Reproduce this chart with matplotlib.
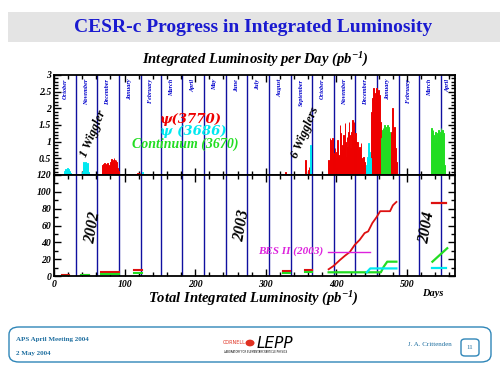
import matplotlib.pyplot as plt
from matplotlib.patches import Rectangle, FancyBboxPatch, Circle
from matplotlib.ticker import MultipleLocator

plt.rcParams['font.family'] = ['Liberation Serif', 'DejaVu Serif']
plt.rcParams['mathtext.fontset'] = 'custom'
plt.rcParams['mathtext.rm'] = 'Liberation Serif:bold:italic'
plt.rcParams['mathtext.bf'] = 'Liberation Serif:bold:italic'
plt.rcParams['mathtext.it'] = 'Liberation Serif:bold:italic'

# days counted from 1 October 2002
month_starts = [31, 61, 92, 123, 151, 182, 212, 243, 273, 304, 335, 365,
                396, 426, 457, 488, 517, 548]
month_names = ['October', 'November', 'December', 'January', 'February',
               'March', 'April', 'May', 'June', 'July', 'August',
               'September', 'October', 'November', 'December', 'January',
               'February', 'March', 'April']

# daily luminosity (pb^-1): first day of each run, then one value per day
psi3770_start = [68, 117, 328, 356, 389, 450, 477]
psi3770_lum = [
    [0.10, 0.30, 0.34, 0.28, 0.37, 0.30, 0.33, 0.22, 0.35, 0.30, 0.18, 0.26,
     0.40, 0.48, 0.42, 0.36, 0.46, 0.50, 0.44, 0.30, 0.45, 0.38, 0.20, 0.12,
     0.05],
    [0.04, 0.06, 0.05, 0.07, 0.04, 0.05, 0.03],
    [0.08],
    [0.45, 0.0, 0.0, 0.0, 0.15, 0.25],
    [0.45, 0.20, 1.10, 1.05, 0.80, 1.10, 0.60, 0.45, 0.65, 0.80, 0.50, 0.70,
     0.95, 1.05, 0.60, 0.55, 1.50, 1.25, 0.75, 0.60, 0.90, 1.20, 0.80, 1.55,
     1.00, 0.55, 1.15, 0.85, 1.30, 1.60, 1.20, 0.80, 1.30, 1.45, 1.65, 1.10,
     1.60, 0.90, 1.25, 1.00, 0.70, 1.00, 0.75, 0.50, 0.85, 0.60, 0.95, 0.50,
     0.30, 0.55, 0.35, 0.40, 0.20, 0.10],
    [1.90, 2.30, 2.10, 2.60, 2.45, 2.20, 2.55, 2.60, 2.35, 2.50, 2.55, 2.40,
     1.60, 0.30],
    [0.50, 1.30, 2.00, 1.40, 1.25, 1.45, 1.30, 0.80, 0.40],
]
psi3686_start = [14, 40, 125, 363, 443]
psi3686_lum = [
    [0.08, 0.12, 0.18, 0.10, 0.15, 0.20, 0.14, 0.18, 0.12, 0.05],
    [0.10, 0.25, 0.38, 0.20, 0.30, 0.40, 0.15, 0.35, 0.28, 0.10],
    [0.08],
    [0.90, 0.35],
    [0.30, 0.55, 0.95, 0.85, 0.70, 0.50, 0.35],
]
cont_start = [464, 535]
cont_lum = [
    [1.10, 1.35, 1.40, 1.30, 1.50, 1.25, 1.45, 1.35, 1.50, 1.20, 1.45, 1.30,
     0.60],
    [1.40, 1.25, 1.35, 1.20, 0.95, 1.30, 1.10, 0.95, 1.25, 1.30, 1.35, 1.15,
     1.30, 1.40, 1.20, 1.35, 1.30, 1.25, 0.30],
]

# integrated luminosity (pb^-1)
red_days = [389, 396, 405, 412, 419, 426, 433, 440, 445, 451, 457, 462, 476, 480, 485]
red_total = [8, 12, 19, 24, 28.5, 37, 43, 51, 53, 63, 70, 77, 77, 84, 88]
green_days = [389, 463, 467, 472, 485]
green_total = [4.4, 4.4, 11, 17, 17]
cyan_days = [443, 448, 485]
cyan_total = [4.4, 9, 9]
red04_days, red04_total = [535, 555], [87, 87]
cyan04_days, cyan04_total = [535, 555], [9, 9]
green04_days, green04_total = [536, 557], [17, 33]
# short early runs: (first day, last day, red level, green level)
early_runs = [(11, 21, 0.8, 0.5), (38, 50, 0.8, 1.2), (66, 92, 4.5, 2.5),
              (113, 124, 7, 3.5), (324, 334, 6.3, 3.5), (356, 365, 7, 4.4)]
bes_days, bes_total = [388, 447], [29, 29]

RED, CYAN, GREEN, MAG, NAVY = '#ee0000', '#00e8f0', '#22dd22', '#dd22dd', '#1010a0'
W, H = 500, 375


def fx(x):
    return x / W


def fy(y):
    return 1 - y / H


fig = plt.figure(figsize=(5, 3.75), dpi=100)
fig.patch.set_facecolor('white')

# title band
fig.patches.append(Rectangle((fx(8), fy(42)), fx(492), 30 / H, transform=fig.transFigure,
                             facecolor='#e4e4e4', edgecolor='none'))
fig.text(fx(253), fy(27), 'CESR-c Progress in Integrated Luminosity', ha='center', va='center',
         fontsize=14, fontweight='bold', color='#1a1ad0')
fig.text(fx(255), fy(60), 'Integrated Luminosity per Day (pb$^{-1}$)', ha='center',
         va='center', fontsize=10.5, fontweight='bold', style='italic')

ax1 = fig.add_axes([fx(54), fy(175), 401 / W, 100 / H])
ax2 = fig.add_axes([fx(54), fy(276), 401 / W, 101 / H])

tick_font = dict(fontsize=7, fontweight='bold', style='italic')

for ax in (ax1, ax2):
    ax.set_xlim(0, 568)
    for m in month_starts:
        ax.axvline(m, color=NAVY, lw=1, zorder=1)
    ax.xaxis.set_major_locator(MultipleLocator(100))
    ax.xaxis.set_minor_locator(MultipleLocator(20))
    ax.tick_params(which='both', direction='in', top=True, right=True, width=1, colors='black')
    ax.tick_params(which='major', length=5)
    ax.tick_params(which='minor', length=3)
    for s in ax.spines.values():
        s.set_linewidth(1.3)

# top panel: daily bars
for starts, lums, col in ((psi3770_start, psi3770_lum, RED),
                          (psi3686_start, psi3686_lum, CYAN),
                          (cont_start, cont_lum, GREEN)):
    for d0, vals in zip(starts, lums):
        ax1.bar([d0 + i for i in range(len(vals))], vals, width=1.0, color=col,
                edgecolor=col, lw=0.7, zorder=2)

ax1.set_ylim(0, 3)
ax1.yaxis.set_major_locator(MultipleLocator(0.5))
ax1.yaxis.set_minor_locator(MultipleLocator(0.1))
ax1.set_yticks([0.5, 1, 1.5, 2, 2.5, 3])
ax1.set_yticklabels(['0.5', '1', '1.5', '2', '2.5', '3'], **tick_font)
ax1.set_xticklabels([])
ax1.tick_params(axis='y', pad=2)

mid = [0] + month_starts + [568]
for i, name in enumerate(month_names):
    ax1.text((mid[i] + mid[i + 1]) / 2, 2.88, name, rotation=90, ha='center', va='top',
             fontsize=4.5, fontweight='bold', style='italic', color='#0000cc')

ax1.text(150, 1.65, '\u03c8(3770)', color=RED, fontsize=9.5, fontweight='bold', style='italic',
         ha='left', va='center', family=['DejaVu Serif'])
ax1.text(150, 1.3, '\u03c8 (3686)', color=CYAN, fontsize=9.5, fontweight='bold', style='italic',
         ha='left', va='center', family=['DejaVu Serif'])
ax1.text(110, 0.93, 'Continuum (3670)', color=GREEN, fontsize=10, fontweight='bold',
         style='italic', ha='left', va='center')
ax1.text(55, 1.23, '1 Wiggler', rotation=67, ha='center', va='center', fontsize=9,
         fontweight='bold', style='italic')
ax1.text(355, 1.26, '6 Wigglers', rotation=67, ha='center', va='center', fontsize=9,
         fontweight='bold', style='italic')

# bottom panel: integrated luminosity
ax2.plot(red_days, red_total, color='#dd1010', lw=1.3)
ax2.plot(green_days, green_total, color=GREEN, lw=1.6)
ax2.plot(cyan_days, cyan_total, color=CYAN, lw=1.6)
ax2.plot(red04_days, red04_total, color='#dd1010', lw=1.6)
ax2.plot(cyan04_days, cyan04_total, color=CYAN, lw=1.6)
ax2.plot(green04_days, green04_total, color=GREEN, lw=1.6)
for d0, d1, r, g in early_runs:
    ax2.plot([d0, d1], [r, r], color='#dd1010', lw=1.5)
    ax2.plot([d0, d1], [g, g], color=GREEN, lw=1.5)
ax2.plot(bes_days, bes_total, color=MAG, lw=1)
ax2.text(381, 29, 'BES II (2003)', color=MAG, fontsize=8, fontweight='bold', style='italic',
         ha='right', va='center')

ax2.set_ylim(0, 120)
ax2.yaxis.set_major_locator(MultipleLocator(20))
ax2.yaxis.set_minor_locator(MultipleLocator(10))
ax2.set_yticks([0, 20, 40, 60, 80, 100, 120])
ax2.set_yticklabels(['0', '20', '40', '60', '80', '100', '120'], **tick_font)
ax2.set_xticks([0, 100, 200, 300, 400, 500])
ax2.set_xticklabels(['0', '100', '200', '300', '400', '500'], **tick_font)
ax2.tick_params(axis='y', pad=2)
ax2.tick_params(axis='x', pad=3)

for yr, d, v in (('2002', 55, 57), ('2003', 266, 60), ('2004', 528, 57)):
    ax2.text(d, v, yr, rotation=80, ha='center', va='center', fontsize=11.5,
             fontweight='bold', style='italic')

fig.text(fx(253), fy(299), 'Total Integrated Luminosity (pb$^{-1}$)', ha='center',
         va='center', fontsize=10.5, fontweight='bold', style='italic')
fig.text(fx(433), fy(293), 'Days', ha='center', va='center', fontsize=7.5,
         fontweight='bold', style='italic')

# footer
TEAL = '#2f86b8'
fig.patches.append(FancyBboxPatch((fx(9), fy(362)), fx(482), 35 / H, transform=fig.transFigure,
                                  boxstyle='round,pad=0,rounding_size=0.02',
                                  facecolor='none', edgecolor=TEAL, lw=1))
fig.text(fx(16), fy(340), 'APS April Meeting 2004', fontsize=5, color='#1f6fa0',
         fontweight='bold', va='center')
fig.text(fx(16), fy(353), '2 May 2004', fontsize=5, color='#1f6fa0', fontweight='bold',
         va='center')
fig.text(fx(452), fy(345), 'J. A. Crittenden', fontsize=5, color='#1f6fa0', ha='right',
         va='center')
fig.patches.append(FancyBboxPatch((fx(461), fy(356)), fx(18), 17 / H, transform=fig.transFigure,
                                  boxstyle='round,pad=0,rounding_size=0.008',
                                  facecolor='none', edgecolor=TEAL, lw=1))
fig.text(fx(470), fy(347.5), '11', fontsize=5, color='#1f6fa0', ha='center', va='center')
fig.text(fx(234), fy(342), 'CORNELL', fontsize=3.5, color='#e03020', ha='center',
         va='center', family=['DejaVu Sans'])
fig.patches.append(Circle((fx(250), fy(343)), 4.5 / W, transform=fig.transFigure,
                          facecolor='#e03020', edgecolor='none'))
fig.text(fx(275), fy(343), 'LEPP', fontsize=11, style='italic', ha='center', va='center',
         family=['DejaVu Sans'])
fig.text(fx(256), fy(352), 'LABORATORY FOR ELEMENTARY-PARTICLE PHYSICS', fontsize=1.8,
         ha='center', va='center', family=['DejaVu Sans'])

fig.savefig('out.png', dpi=100)
